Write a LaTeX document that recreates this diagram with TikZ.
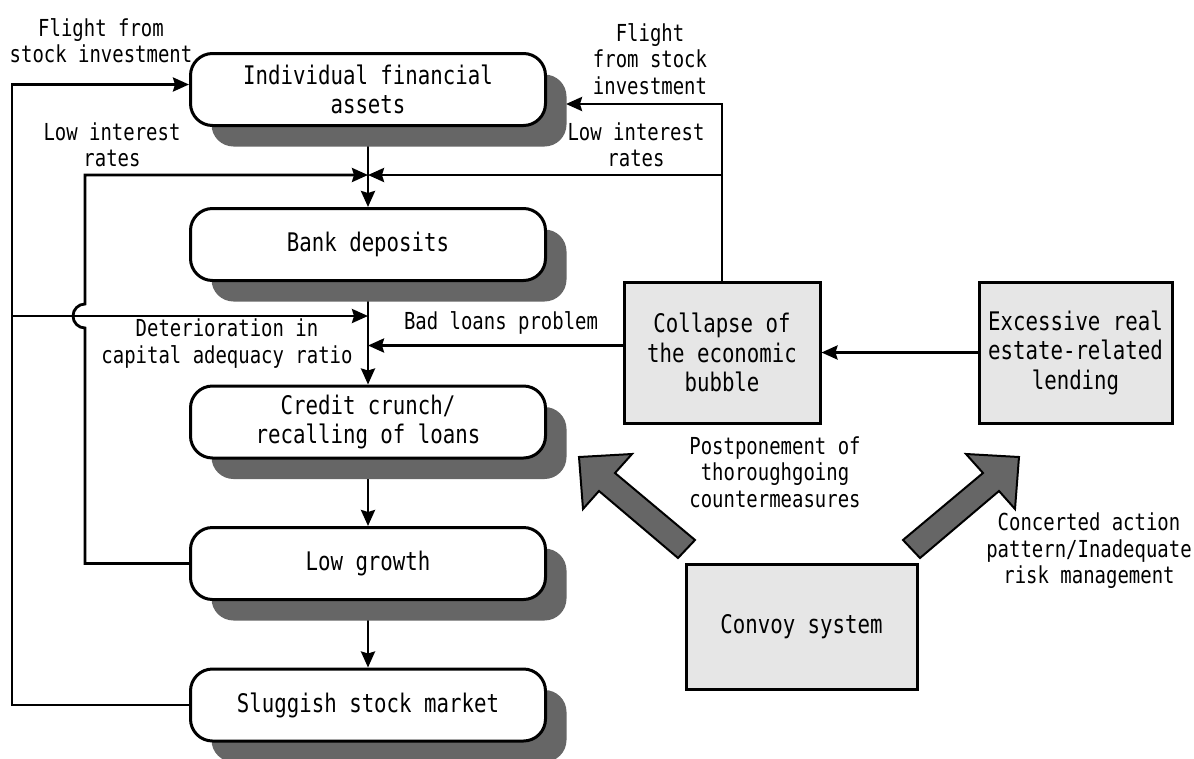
\documentclass[tikz,border=0pt]{standalone}
\usepackage{fontspec}
\setmainfont{DejaVu Sans Mono}[FakeStretch=0.81]
\usetikzlibrary{arrows.meta,shadows}
\definecolor{shadowgray}{HTML}{666666}
\definecolor{boxgray}{HTML}{E6E6E6}
\newcommand{\dgboxfont}{\fontsize{25.6}{29.5}\selectfont}
\newcommand{\dglblfont}{\fontsize{23.4}{26.5}\selectfont}
\pgfdeclarelayer{background}
\pgfsetlayers{background,main}
\begin{document}
\begin{tikzpicture}[x=1pt,y=-1pt,
  rbox/.style={draw, line width=3pt, fill=white, rounded corners=22pt,
    minimum width=355pt, minimum height=72pt, align=center, font=\dgboxfont,
    inner sep=0pt,
    general shadow={fill=shadowgray, shadow xshift=21pt, shadow yshift=-21pt}},
  gbox/.style={draw, line width=3pt, fill=boxgray, align=center,
    font=\dgboxfont, inner sep=0pt},
  lbl/.style={align=center, font=\dglblfont, inner sep=0pt},
  ln/.style={line width=2.8pt},
  arr/.style={line width=2.8pt, -{Stealth[length=16pt,width=14pt,inset=2pt]}},
  bigarrow/.style={draw, line width=2pt, fill=shadowgray, line join=miter}
]
\useasboundingbox (0,0) rectangle (1194,758);

% rounded boxes
\node[rbox] (B1) at (368,89.5) {Individual financial\\assets};
\node[rbox] (B2) at (368,244.5) {Bank deposits};
\node[rbox] (B3) at (368,422) {Credit crunch/\\recalling of loans};
\node[rbox] (B4) at (368,563.5) {Low growth};
\node[rbox] (B5) at (368,705) {Sluggish stock market};

% gray boxes
\node[gbox, minimum width=196pt, minimum height=141pt] (Col) at (722,352.5)
  {Collapse of\\the economic\\bubble};
\node[gbox, minimum width=193pt, minimum height=141pt] (Exc) at (1075.5,352.5)
  {Excessive real\\estate-related\\lending};
\node[gbox, minimum width=231pt, minimum height=125pt] (Con) at (801.5,626.5)
  {Convoy system};

% labels
\node[lbl] (lFL) at (101,40.5) {Flight from\\stock investment};
\node[lbl] (lLL) at (112,145) {Low interest\\rates};
\node[lbl] (lFR) at (650,59) {Flight\\from stock\\investment};
\node[lbl] (lLR) at (636,145) {Low interest\\rates};
\node[lbl] (lDet) at (227,343.5) {Deterioration in\\capital adequacy ratio};
\node[lbl] (lBad) at (501,323) {Bad loans problem};
\node[lbl] (lPost) at (775,472) {Postponement of\\thoroughgoing\\countermeasures};
\node[lbl] (lConc) at (1089,551) {Concerted action\\pattern/Inadequate\\risk management};

% coordinates
\coordinate (outerL) at (13,316);
\coordinate (jDet) at (368,316);
\coordinate (jLow) at (368,175);
\coordinate (rLow) at (722,175);
\coordinate (rTop) at (722,104);
\coordinate (B1sh) at (566,104);
\coordinate (jBad) at (368,345.5);

% big arrows
\path[bigarrow] (579,457) -- (632,454) -- (615,473) -- (695,540) -- (678,558)
  -- (599,491) -- (583,509) -- cycle;
\path[bigarrow] (1019,457) -- (966,454) -- (983,473) -- (903,540) -- (920,558)
  -- (999,491) -- (1015,509) -- cycle;

\begin{pgfonlayer}{background}
  \draw[arr] (B1.south) -- (B2.north);
  \draw[arr] (B2.south) -- (B3.north);
  \draw[arr] (B3.south) -- (B4.north);
  \draw[arr] (B4.south) -- (B5.north);
  % outer loop
  \draw[arr] (B5.west) -- ++(-177,0) |- ([yshift=5pt]B1.west);
  % deterioration
  \draw[arr] (outerL) -- (jDet);
  % inner loop with hop
  \draw[arr] (B4.west) -- (85,563.5) -- (85,328)
    arc[start angle=90, end angle=270, radius=12] -- (85,175) -- (jLow);
  % right loop
  \draw[arr] (Col.north) -- (rTop) -- (B1sh);
  \draw[arr] (rLow) -- (jLow);
  % bad loans
  \draw[arr] ([yshift=7pt]Col.west) -- (jBad);
  % excessive to collapse
  \draw[arr] (Exc.west) -- (Col.east);
\end{pgfonlayer}
\end{tikzpicture}
\end{document}
